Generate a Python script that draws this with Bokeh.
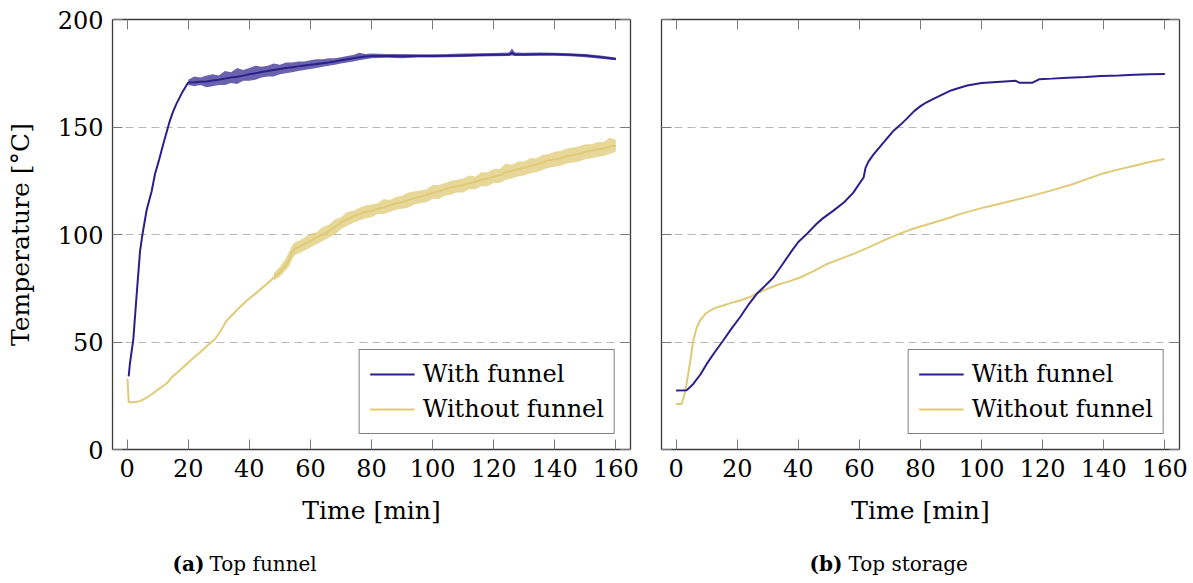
from bokeh.plotting import figure
from bokeh.models import (Range1d, LinearAxis, FixedTicker, Legend, LegendItem, Label,
                          CustomJSTickFormatter)
from bokeh.layouts import row, column
from bokeh.embed import file_html
from bokeh.resources import INLINE

# ---------------- data ----------------
x_ticks = [0, 20, 40, 60, 80, 100, 120, 140, 160]
y_ticks = [0, 50, 100, 150, 200]
series_labels = ["With funnel", "Without funnel"]
x_label = "Time [min]"
y_label = "Temperature [°C]"
captions = [("(a)", "Top funnel"), ("(b)", "Top storage")]

# (a) Top funnel -- with funnel: smooth heating part
a_with_t = [0.5, 0.9, 2, 3, 4.2, 5, 6.4, 8, 9.1, 10.5, 11.8, 13, 14, 15, 16.2, 18, 20]
a_with_T = [34, 40, 51, 70, 92, 100, 111.5, 120, 128, 135, 142, 148, 153, 157, 161, 166, 170.7]
# noisy plateau part: centre, upper and lower edge of the noise band
a_with_nt = [20, 22, 24, 26, 28, 30, 32, 34, 36, 38, 40, 42, 44, 46, 48, 50, 52, 54, 56, 58,
             60, 62, 64, 66, 68, 70, 72, 74, 76, 78, 80, 85, 90, 95, 100, 105, 110, 115, 120,
             125, 126, 127, 130, 135, 140, 145, 150, 155, 160]
a_with_nc = [170.7, 170.8, 171, 171.2, 171.6, 172, 172.5, 173, 173.4, 173.9, 174.5, 175, 175.6,
             176, 176.5, 177, 177.4, 177.8, 178.2, 178.6, 179, 179.3, 179.7, 180, 180.5, 181,
             181.5, 182, 182.4, 182.8, 183, 183, 182.9, 183, 183, 183.1, 183.3, 183.5, 183.6,
             183.7, 184.5, 183.7, 183.7, 183.8, 183.8, 183.6, 183.2, 182.5, 181.6]
a_with_nu = [172.0, 173.5, 173.0, 174.0, 174.5, 174.0, 176.0, 175.5, 177.5, 176.5, 177.5, 178.5,
             178.0, 178.5, 179.5, 179.0, 180.0, 180.0, 180.5, 180.5, 181.0, 181.5, 181.5, 182.0,
             182.0, 182.5, 183.0, 183.5, 184.5, 184.0, 184.2, 184.0, 184.0, 183.8, 183.8, 184.0,
             184.2, 184.3, 184.4, 184.6, 186.5, 184.6, 184.5, 184.6, 184.5, 184.3, 184.0, 183.2, 182.3]
a_with_nl = [169.5, 169.0, 169.5, 168.5, 169.0, 169.5, 169.5, 170.5, 170.0, 171.5, 171.5, 172.0,
             173.0, 173.5, 173.5, 174.5, 175.0, 175.5, 176.0, 176.5, 177.0, 177.5, 178.0, 178.5,
             179.0, 179.5, 180.0, 180.5, 181.0, 181.5, 182.0, 182.2, 182.0, 182.3, 182.3, 182.4,
             182.6, 182.8, 182.9, 183.0, 183.2, 183.0, 183.0, 183.1, 183.1, 182.9, 182.5, 181.8, 181.0]

# (a) Top funnel -- without funnel: smooth part
a_wo_t = [0.1, 0.5, 2, 4.2, 6, 7.4, 10, 12.9, 14, 14.6, 17, 19.5, 22, 23.9, 26, 28.8, 30.5,
          32.6, 34, 36, 39.2, 42, 45.7, 48]
a_wo_T = [33, 22, 22, 22.5, 23.8, 25, 27.8, 30.7, 32.5, 33.6, 36.5, 39.8, 43, 45.2, 48, 51.4,
          55, 60, 62, 65, 69.3, 72.5, 77, 80]
# noisy part
a_wo_nt = [48, 50, 52, 53, 54, 55, 56, 58, 60, 62, 64, 66, 68, 70, 72, 74, 76, 78, 80, 82, 84,
           86, 88, 90, 92, 94, 96, 98, 100, 102, 104, 106, 108, 110, 112, 114, 116, 118, 120,
           122, 124, 126, 128, 130, 132, 134, 136, 138, 140, 142, 144, 146, 148, 150, 152, 154,
           156, 158, 160]
a_wo_nc = [80, 82.5, 86, 88, 92, 93.5, 94, 95.5, 97, 98.5, 100, 101.5, 103.5, 105.5, 107, 108.5,
           109.5, 110.5, 111, 112, 112.6, 113.5, 114.5, 115, 116, 117, 117.5, 118.5, 119.5, 120,
           121, 121.9, 122.5, 123, 124, 124.5, 125.5, 126, 127, 127.5, 129, 129.5, 130.5, 131,
           132, 132.5, 133.5, 134.5, 135, 135.5, 136.5, 137, 137.5, 138.5, 139, 139.5, 140, 141, 141.3]
a_wo_nu = [82, 85, 89, 92, 95, 96.5, 97, 98.5, 100.5, 101, 103.5, 104.5, 107, 108, 110.5, 111,
           112.5, 113.5, 114, 114.5, 116.5, 116, 117.5, 118, 119.5, 120, 120.5, 121, 123, 123,
           124, 125, 125.5, 126, 127.5, 127, 129, 129, 130.5, 130.5, 133, 132.5, 134, 134, 135.5,
           135.5, 137, 137.5, 138.5, 139, 140, 140.5, 141, 142, 142, 143, 143, 145, 144]
a_wo_nl = [78.5, 80.5, 83.5, 85, 88.5, 90.5, 91, 92.5, 94, 95.5, 97, 98.5, 100, 102.5, 104,
           105.5, 106.5, 107.5, 108, 109.5, 109.5, 110.5, 111.5, 112, 112.5, 114, 114.5, 115,
           116.5, 116.5, 118, 118.5, 119.5, 119.5, 121, 121, 122.5, 122.5, 124, 124, 125.5, 126,
           127, 127.5, 128.5, 129, 130, 131, 131.5, 132, 133, 133.5, 134, 135, 135.5, 136, 136.5,
           137.5, 138.5]

# (b) Top storage
b_with_t = [0, 3.4, 5.6, 8, 10, 12.5, 15.4, 18, 20.9, 24, 26.4, 29, 31.8, 35, 37.9, 40, 42.8,
            46, 48, 51.5, 55, 58, 61.4, 62, 63, 64.7, 68, 71.2, 73.4, 75.6, 78, 80, 82, 84.4,
            86.6, 90, 93.1, 95.3, 100, 106.3, 111.2, 112.3, 116.7, 118.8, 123, 128.2, 134,
            139.1, 145, 150, 155, 160]
b_with_T = [27.4, 27.5, 30.5, 35, 39.8, 45, 50.7, 56, 61.5, 68, 72.4, 76, 80, 86.5, 92.5, 96.5,
            100.3, 105, 107.5, 111.1, 115, 119.5, 126.6, 131, 134, 137.4, 143, 148.3, 151, 154,
            157.5, 159.7, 161.5, 163.2, 164.7, 167, 168.4, 169.3, 170.5, 171.1, 171.5, 170.6,
            170.6, 172.2, 172.5, 172.9, 173.3, 173.7, 174.0, 174.3, 174.5, 174.6]
b_wo_t = [0, 1.8, 2.6, 3.4, 4.5, 5.6, 6.7, 7.8, 9.5, 11.1, 13, 15.4, 18, 20.9, 24, 26.4, 30, 34,
          37, 40.6, 45, 49.4, 54, 58.1, 63, 68, 73.4, 77.8, 84.4, 90, 93.1, 100.8, 108, 115,
          122.7, 130, 139.1, 145, 150, 155, 159.9]
b_wo_T = [21.2, 21.2, 25, 30.5, 40, 50.7, 56.5, 60, 63, 64.6, 66, 67, 68.2, 69.3, 70.8, 72.6,
          74.8, 77, 78.2, 80, 83, 86.3, 88.8, 91, 94, 97.3, 100.5, 102.8, 105.6, 108, 109.6,
          112.6, 115, 117.5, 120.4, 123.5, 128.1, 130.3, 132, 133.7, 135.1]

# ---------------- style ----------------
BLUE = "#2c1f8b"
YELLOW = "#dfcb77"
FONT = "DejaVu Serif"
AXIS_COLOR = "#3a3a3a"
TICK_COLOR = "#7a7a7a"
PANEL_H = 540


def style_axis(ax, ticks, show_labels):
    ax.ticker = FixedTicker(ticks=ticks)
    ax.major_tick_in = 10
    ax.major_tick_out = 0
    ax.minor_tick_line_color = None
    ax.major_tick_line_color = TICK_COLOR
    ax.major_tick_line_width = 1
    ax.axis_line_color = AXIS_COLOR
    ax.axis_line_width = 1.3
    ax.major_label_text_font = FONT
    ax.major_label_text_color = "black"
    ax.axis_label_text_font = FONT
    ax.axis_label_text_font_size = "25px"
    ax.axis_label_text_font_style = "normal"
    ax.axis_label_text_color = "black"
    if show_labels:
        ax.major_label_text_font_size = "24px"
        ax.major_label_standoff = 9
    else:
        ax.formatter = CustomJSTickFormatter(code="return '';")
        ax.major_label_text_font_size = "1px"
        ax.major_label_standoff = 0


def make_panel(width, left_border, right_border, show_ylabels):
    p = figure(width=width, height=PANEL_H, output_backend="svg", toolbar_location=None,
               x_range=Range1d(-4.8, 164.8), y_range=Range1d(0, 200),
               min_border_left=left_border, min_border_right=right_border,
               min_border_top=19, min_border_bottom=PANEL_H - 19 - 430)
    p.outline_line_color = None
    p.background_fill_color = "white"
    p.border_fill_color = "white"
    style_axis(p.xaxis[0], x_ticks, True)
    p.xaxis[0].axis_label = x_label
    p.xaxis[0].axis_label_standoff = 16
    style_axis(p.yaxis[0], y_ticks, show_ylabels)
    if show_ylabels:
        p.yaxis[0].axis_label = y_label
        p.yaxis[0].axis_label_standoff = 20
    top = LinearAxis()
    style_axis(top, x_ticks, False)
    p.add_layout(top, "above")
    right = LinearAxis()
    style_axis(right, y_ticks, False)
    p.add_layout(right, "right")
    p.xgrid.visible = False
    p.ygrid.ticker = FixedTicker(ticks=[50, 100, 150])
    p.ygrid.grid_line_color = "#b8b8b8"
    p.ygrid.grid_line_dash = "8 5"
    p.ygrid.grid_line_width = 1
    return p


def add_legend(p, r_with, r_wo):
    leg = Legend(items=[LegendItem(label=series_labels[0], renderers=[r_with]),
                        LegendItem(label=series_labels[1], renderers=[r_wo])],
                 location="bottom_right", margin=15, padding=10, spacing=7,
                 glyph_width=45, glyph_height=28, label_standoff=8,
                 label_text_font=FONT, label_text_font_size="24px", label_text_color="black",
                 border_line_color="black", border_line_width=1.2,
                 background_fill_color="white", background_fill_alpha=1.0)
    p.add_layout(leg)


# ---------------- panel (a) ----------------
pa = make_panel(640, 112, 10, True)
pa.varea(x=a_wo_nt, y1=a_wo_nl, y2=a_wo_nu, fill_color=YELLOW, fill_alpha=0.75)
ra_wo = pa.line(a_wo_t + a_wo_nt[1:], a_wo_T + a_wo_nc[1:], line_color=YELLOW, line_width=2)
pa.varea(x=a_with_nt, y1=a_with_nl, y2=a_with_nu, fill_color=BLUE, fill_alpha=0.7)
ra_with = pa.line(a_with_t + a_with_nt[1:], a_with_T + a_with_nc[1:], line_color=BLUE, line_width=2)
add_legend(pa, ra_with, ra_wo)

# ---------------- panel (b) ----------------
pb = make_panel(553, 21, 14, False)
rb_wo = pb.line(b_wo_t, b_wo_T, line_color=YELLOW, line_width=2)
rb_with = pb.line(b_with_t, b_with_T, line_color=BLUE, line_width=2)
add_legend(pb, rb_with, rb_wo)

# ---------------- captions strip ----------------
CAP_H = 583 - PANEL_H
cap = figure(width=1193, height=CAP_H, output_backend="svg", toolbar_location=None,
             x_range=Range1d(0, 1193), y_range=Range1d(0, CAP_H), min_border=0)
cap.axis.visible = False
cap.grid.visible = False
cap.outline_line_color = None
cap_pos = [(204, 209), (842, 848)]
for (tag, text), (tx, sx) in zip(captions, cap_pos):
    cap.add_layout(Label(x=tx, y=20, text=tag, text_align="right", text_baseline="middle",
                         text_font=FONT, text_font_size="20px", text_font_style="bold",
                         text_color="black"))
    cap.add_layout(Label(x=sx, y=20, text=text, text_align="left", text_baseline="middle",
                         text_font=FONT, text_font_size="20px", text_color="black"))

layout = column(row(pa, pb), cap)
open("out.html", "w").write(file_html(layout, INLINE))
